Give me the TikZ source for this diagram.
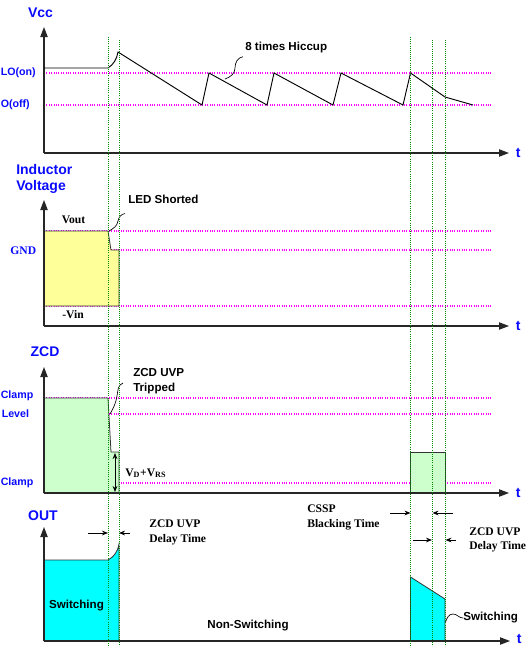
\documentclass[tikz,border=0pt]{standalone}
\usepackage{fontspec}
\setmainfont{Liberation Serif}
\setsansfont{Liberation Sans}
\usepackage{xcolor}
\usepackage{tikz}
\usetikzlibrary{arrows.meta}
\usetikzlibrary{positioning}
\definecolor{azul}{RGB}{10,10,255}
\definecolor{rosa}{RGB}{255,0,255}
\definecolor{verde}{RGB}{0,140,0}
\definecolor{amarelo}{RGB}{255,255,153}
\definecolor{verdeclaro}{RGB}{204,255,204}
\definecolor{ciano}{RGB}{0,255,255}
\tikzset{
  titulo/.style={font=\fontsize{10.5}{12}\selectfont\sffamily\bfseries, text=azul, align=left, inner sep=0pt},
  nivel/.style={font=\fontsize{8}{10}\selectfont\sffamily\bfseries, text=azul, anchor=west, inner sep=0pt},
  rotulo/.style={font=\fontsize{8.7}{11}\selectfont\sffamily\bfseries, align=left, inner sep=0pt},
  serifa/.style={font=\fontsize{8.7}{11}\selectfont\bfseries, align=left, inner sep=0pt},
  eixo/.style={draw=black!85, line width=0.8pt, -{Triangle[length=7.5pt,width=5.5pt]}},
  limiar/.style={rosa, densely dotted, line width=0.8pt},
  guia/.style={verde, densely dotted, line width=0.6pt},
  onda/.style={line width=0.7pt},
  seta/.style={-{Stealth[length=4.5pt,width=3.5pt]}, line width=0.6pt},
  mola/.style={line width=0.5pt},
}

\begin{document}
\begin{tikzpicture}[x=0.75pt, y=-0.75pt, node distance=5pt]
  \useasboundingbox (0,0) rectangle (530,646);

  % Vcc
  \coordinate (o1) at (44,153);
  \coordinate (y1) at (44,27);
  \coordinate (x1) at (509,153);
  \draw[limiar] (44,73) -- (492,73);
  \draw[limiar] (44,105) -- (492,105);
  \draw[eixo] (o1) -- (y1);
  \draw[eixo] (o1) -- (x1);
  \node[titulo] (vcc) at (40.5,13) {Vcc};
  \node[titulo, right=of x1] (t1) {t};
  \node[nivel] (uvloon) at (0.5,73) {LO(on)};
  \node[nivel] (uvlooff) at (0.5,105) {O(off)};
  \draw[onda] (44,68) -- (108,68) .. controls (113,65) and (117,59) .. (118,52)
    -- (202,105) -- (209,73) -- (267,105) -- (274,73) -- (333,105) -- (341,73)
    -- (403,105) -- (410.5,73) -- (445,97) -- (473,105);
  \node[rotulo, anchor=west] (hiccup) at (245,47) {8 times Hiccup};
  \draw[mola] ([shift={(-2,4)}]hiccup.south west) to[out=190,in=90] (235,68) to[out=-90,in=20] (225,79);

  % Inductor Voltage
  \coordinate (o2) at (44,326);
  \coordinate (y2) at (44,200);
  \coordinate (x2) at (509,326);
  \draw[limiar] (44,231) -- (492,231);
  \draw[limiar] (44,250) -- (492,250);
  \draw[limiar] (44,306) -- (492,306);
  \draw[fill=amarelo, draw=black!80, line width=0.6pt] (44,231) -- (108,231) -- (111,250) -- (119,250) -- (119,306) -- (44,306) -- cycle;
  \draw[eixo] (o2) -- (y2);
  \draw[eixo] (o2) -- (x2);
  \node[titulo, anchor=west] (indutor) at (16,179) {Inductor\\Voltage};
  \node[titulo, right=of x2] (t2) {t};
  \node[serifa] (vout) at (73.5,220) {Vout};
  \node[serifa, text=azul, anchor=east] (gnd) at (36.5,251) {GND};
  \node[serifa] (vin) at (73,315) {-Vin};
  \node[rotulo, anchor=west] (led) at (128,199) {LED Shorted};
  \draw[mola] ([shift={(-3,10)}]led.south west) to[out=190,in=80] (118,221) to[out=-100,in=30] (109,231);

  % ZCD
  \coordinate (o3) at (44,493);
  \coordinate (y3) at (44,367);
  \coordinate (x3) at (509,493);
  \draw[limiar] (44,398) -- (492,398);
  \draw[limiar] (44,414) -- (492,414);
  \draw[limiar] (44,483) -- (492,483);
  \draw[fill=verdeclaro, draw=black!80, line width=0.6pt] (44,398) -- (108,398) -- (111,452) -- (119,452) -- (119,493) -- (44,493) -- cycle;
  \draw[fill=verdeclaro, draw=black!80, line width=0.6pt] (410.5,452) rectangle (445,493);
  \draw[eixo] (o3) -- (y3);
  \draw[eixo] (o3) -- (x3);
  \node[titulo] (zcd) at (45,352) {ZCD};
  \node[titulo, right=of x3] (t3) {t};
  \node[nivel] (clampalto) at (0.5,396) {Clamp};
  \node[nivel] (uvp) at (1.5,414) {Level};
  \node[nivel] (clampbaixo) at (0.5,483) {Clamp};
  \coordinate (d1) at (115,453);
  \coordinate (d2) at (115,492);
  \draw[seta, {Stealth[length=4.5pt,width=3.5pt]}-{Stealth[length=4.5pt,width=3.5pt]}] (d1) -- (d2);
  \node[serifa, anchor=west] (vdrs) at (125,473) {V\textsubscript{D}+V\textsubscript{RS}};
  \node[rotulo, anchor=west] (trip) at (133,381) {ZCD UVP\\Tripped};
  \draw[mola] ([shift={(-10,2)}]trip.west) to[out=200,in=80] (117,396) to[out=-100,in=60] (110,414);

  % OUT
  \coordinate (o4) at (44,641);
  \coordinate (y4) at (44,527);
  \coordinate (x4) at (510,641);
  \draw[fill=ciano, draw=black!80, line width=0.6pt] (44,560) -- (108,560) .. controls (114,557) and (118,551) .. (119,544) -- (119,641) -- (44,641) -- cycle;
  \draw[fill=ciano, draw=black!80, line width=0.6pt] (410.5,577) -- (445,599) -- (445,641) -- (410.5,641) -- cycle;
  \draw[eixo] (o4) -- (y4);
  \draw[eixo] (o4) -- (x4);
  \node[titulo] (out) at (43,516) {OUT};
  \node[titulo, right=of x4, yshift=1.5pt] (t4) {t};
  \node[rotulo] (sw1) at (76.5,606) {Switching};
  \node[rotulo] (nsw) at (248,626) {Non-Switching};
  \node[rotulo, anchor=west] (sw2) at (463,618) {Switching};
  \draw[mola] (445.5,622) to[out=70,in=180] (453,614) to[out=0,in=180] (sw2.west);

  % delays
  \node[serifa, anchor=west] (atraso1) at (149,532.5) {ZCD UVP\\Delay Time};
  \node[serifa, anchor=west] (cssp) at (307,517.5) {CSSP\\Blacking Time};
  \node[serifa, anchor=west] (atraso2) at (469,540) {ZCD UVP\\Delay Time};
  \coordinate (a1) at (88,533);
  \coordinate (a2) at (108,533);
  \coordinate (a3) at (130,533);
  \coordinate (a4) at (119,533);
  \draw[seta] (a1) -- (a2);
  \draw[seta] (a3) -- (a4);
  \coordinate (b1) at (390,513);
  \coordinate (b2) at (410.5,513);
  \coordinate (b3) at (453,513);
  \coordinate (b4) at (432.5,513);
  \draw[seta] (b1) -- (b2);
  \draw[seta] (b3) -- (b4);
  \coordinate (c1) at (413,540);
  \coordinate (c2) at (432,540);
  \coordinate (c3) at (456,540);
  \coordinate (c4) at (445.5,540);
  \draw[seta] (c1) -- (c2);
  \draw[seta] (c3) -- (c4);

  % guias
  \draw[guia] (108,37) -- (108,646);
  \draw[guia] (119,40) -- (119,646);
  \draw[guia] (410.5,37) -- (410.5,646);
  \draw[guia] (432,40) -- (432,646);
  \draw[guia] (445,40) -- (445,646);
\end{tikzpicture}
\end{document}
